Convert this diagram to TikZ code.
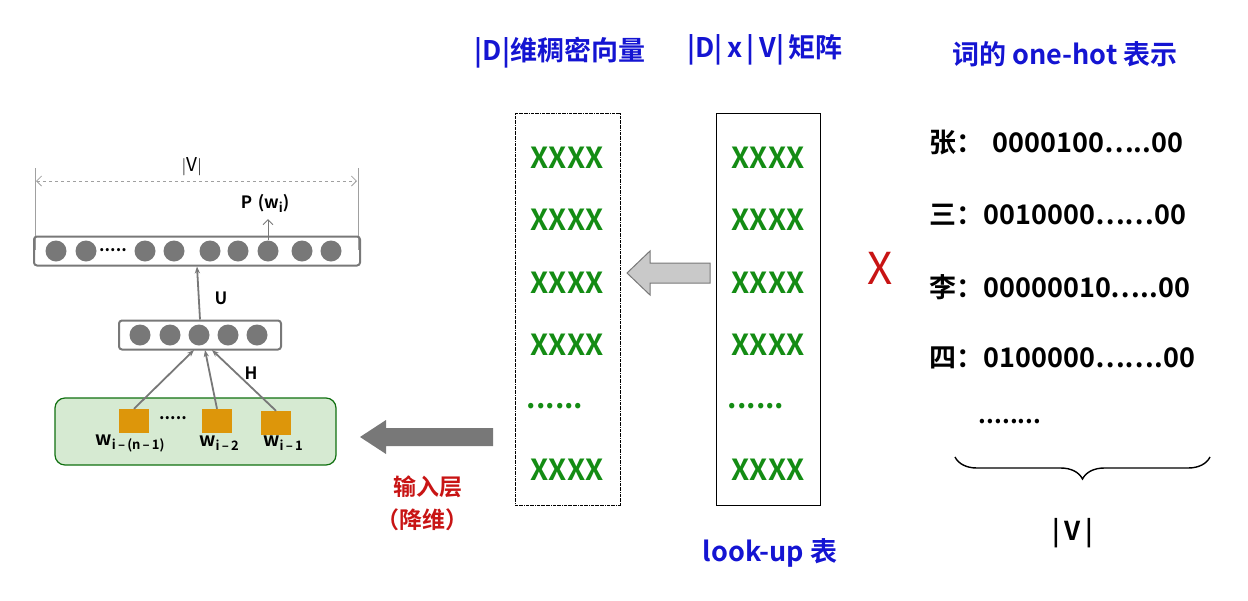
\documentclass[tikz,border=0pt]{standalone}
\usepackage{fontspec}
\setmainfont{Noto Sans CJK SC}[BoldFont={Noto Sans CJK SC Bold}]
\usetikzlibrary{decorations.pathreplacing,arrows.meta}
\definecolor{tblue}{RGB}{20,20,210}
\definecolor{tgreen}{RGB}{20,140,20}
\definecolor{tred}{RGB}{200,20,20}
\definecolor{orng}{RGB}{221,150,10}
\definecolor{lgreen}{RGB}{214,234,210}
\definecolor{dgray}{RGB}{120,120,120}
\newcommand{\subtx}[1]{\raisebox{-4pt}{\fontsize{13}{14}\selectfont #1}}
\tikzset{
 title/.style={text=tblue,font=\bfseries\fontsize{27}{30}\selectfont},
 xx/.style={text=tgreen,font=\bfseries\fontsize{29}{30}\selectfont},
 oh/.style={font=\bfseries\fontsize{27}{30}\selectfont,anchor=west},
 neu/.style={circle,fill=dgray,minimum size=21pt,inner sep=0},
 layer/.style={draw=dgray,line width=2pt,rounded corners=3pt},
 sq/.style={fill=orng,minimum width=30pt,minimum height=24pt,inner sep=0},
 ar/.style={draw=dgray,line width=1.8pt,-{Stealth[length=7pt]}},
 lab/.style={font=\bfseries\fontsize{17}{18}\selectfont},
 wl/.style={font=\bfseries\fontsize{19}{20}\selectfont}
}
\begin{document}
\begin{tikzpicture}[x=1pt,y=-1pt]
\useasboundingbox (0,0) rectangle (1248,600);
% left network
\draw[dgray!70,line width=0.8pt] (35,168)--(35,250) (358,168)--(358,250);
\coordinate (vl) at (36,181); \coordinate (vr) at (357,181);
\draw[dgray!70,dashed,line width=0.8pt,{Straight Barb[length=5pt]}-{Straight Barb[length=5pt]}] (vl)--(vr);
\node[font=\fontsize{19}{19}\selectfont] (vlab) at (192,167) {$|\mathrm{V}|$};
\node[layer,minimum width=326pt,minimum height=29pt] (out) at (197,251) {};
\foreach \x/\n in {56/o1,86/o2,145/o3,174/o4,210/o5,238/o6,268/o7,302/o8,331/o9}
  \node[neu] (\n) at (\x,251) {};
\node[lab] (odots) at (113,250) {.....};
\node[lab] (pw) at (265,203) {P\,\,(w\subtx{i})};
\draw[dgray,line width=1pt,-{Straight Barb[length=5pt]}] (o7.north)--(268,219);
\node[layer,minimum width=162pt,minimum height=29pt] (hid) at (200,335) {};
\foreach \x/\n in {140/h1,170/h2,199/h3,228/h4,257/h5}
  \node[neu] (\n) at (\x,335) {};
\draw[ar] (hid.north)--(out.south);
\node[lab] (U) at (221,298) {U};
\node[draw=tgreen!80!black,fill=lgreen,line width=1.2pt,rounded corners=10pt,minimum width=281pt,minimum height=67pt] (inp) at (195.5,431.5) {};
\node[sq] (s1) at (134,421) {};
\node[sq] (s2) at (217,421) {};
\node[sq] (s3) at (276,423) {};
\node[lab] (sd) at (173,418) {.....};
\draw[ar] (s1.north)--(194,350);
\draw[ar] (s2.north)--(205,350);
\draw[ar] (s3.north)--(212,350);
\node[lab] (H) at (251,373) {H};
\node[wl] (l1) at (130,443) {w\subtx{i\,–\,(n\,–\,1)}};
\node[wl] (l2) at (219,443) {w\subtx{i\,–\,2}};
\node[wl] (l3) at (283,443) {w\subtx{i\,–\,1}};
% big dark arrow
\fill[dgray] (360,437)--(386,420)--(386,428)--(493,428)--(493,446)--(386,446)--(386,454)--cycle;
\node[text=tred,font=\bfseries\fontsize{23}{25}\selectfont] (in1) at (428,487) {输入层};
\node[text=tred,font=\bfseries\fontsize{23}{25}\selectfont] (in2) at (422,520) {（降维）};
% dense vector
\node[title] (t1) at (560,53) {|D|维稠密向量};
\node[draw,densely dashdotted,line width=0.8pt,minimum width=105pt,minimum height=392pt] (dv) at (567.5,309) {};
\node[title] (t2) at (765,50) {|D|\,x\,|\,V|\,矩阵};
\node[draw,line width=1pt,minimum width=104pt,minimum height=392pt] (lu) at (768,309) {};
\foreach \y in {158,220,283,345,470}{
  \node[xx] at (567,\y) {XXXX};
  \node[xx] at (768,\y) {XXXX};}
\node[xx] (d1) at (555,406) {......};
\node[xx] (d2) at (756,406) {......};
\draw[dgray,line width=1pt,fill=dgray!40] (627,273)--(650,251)--(650,263)--(710,263)--(710,283)--(650,283)--(650,295)--cycle;
\node[title] (t4) at (770,553) {look-up 表};
\node[text=tred,font=\fontsize{44}{46}\selectfont] (X) at (880,268) {X};
% one-hot
\node[title] (t3) at (1065,54) {词的 one-hot 表示};
\node[oh] (r1) at (926,143) {张：\,\,0000100⋯..00};
\node[oh] (r2) at (926,215) {三：0010000⋯⋯00};
\node[oh] (r3) at (926,287) {李：00000010⋯..00};
\node[oh] (r4) at (926,358) {四：0100000⋯⋯.00};
\node[font=\bfseries\fontsize{24}{26}\selectfont] (rd) at (1010,422) {........};
\coordinate (bl) at (955,457); \coordinate (br) at (1210,457);
\draw[line width=1.4pt,decorate,decoration={brace,mirror,amplitude=22pt,aspect=0.5}] (bl)--(br);
\node[font=\bfseries\fontsize{26}{28}\selectfont] (vv) at (1073,533) {|\,V\,|};
\end{tikzpicture}
\end{document}
